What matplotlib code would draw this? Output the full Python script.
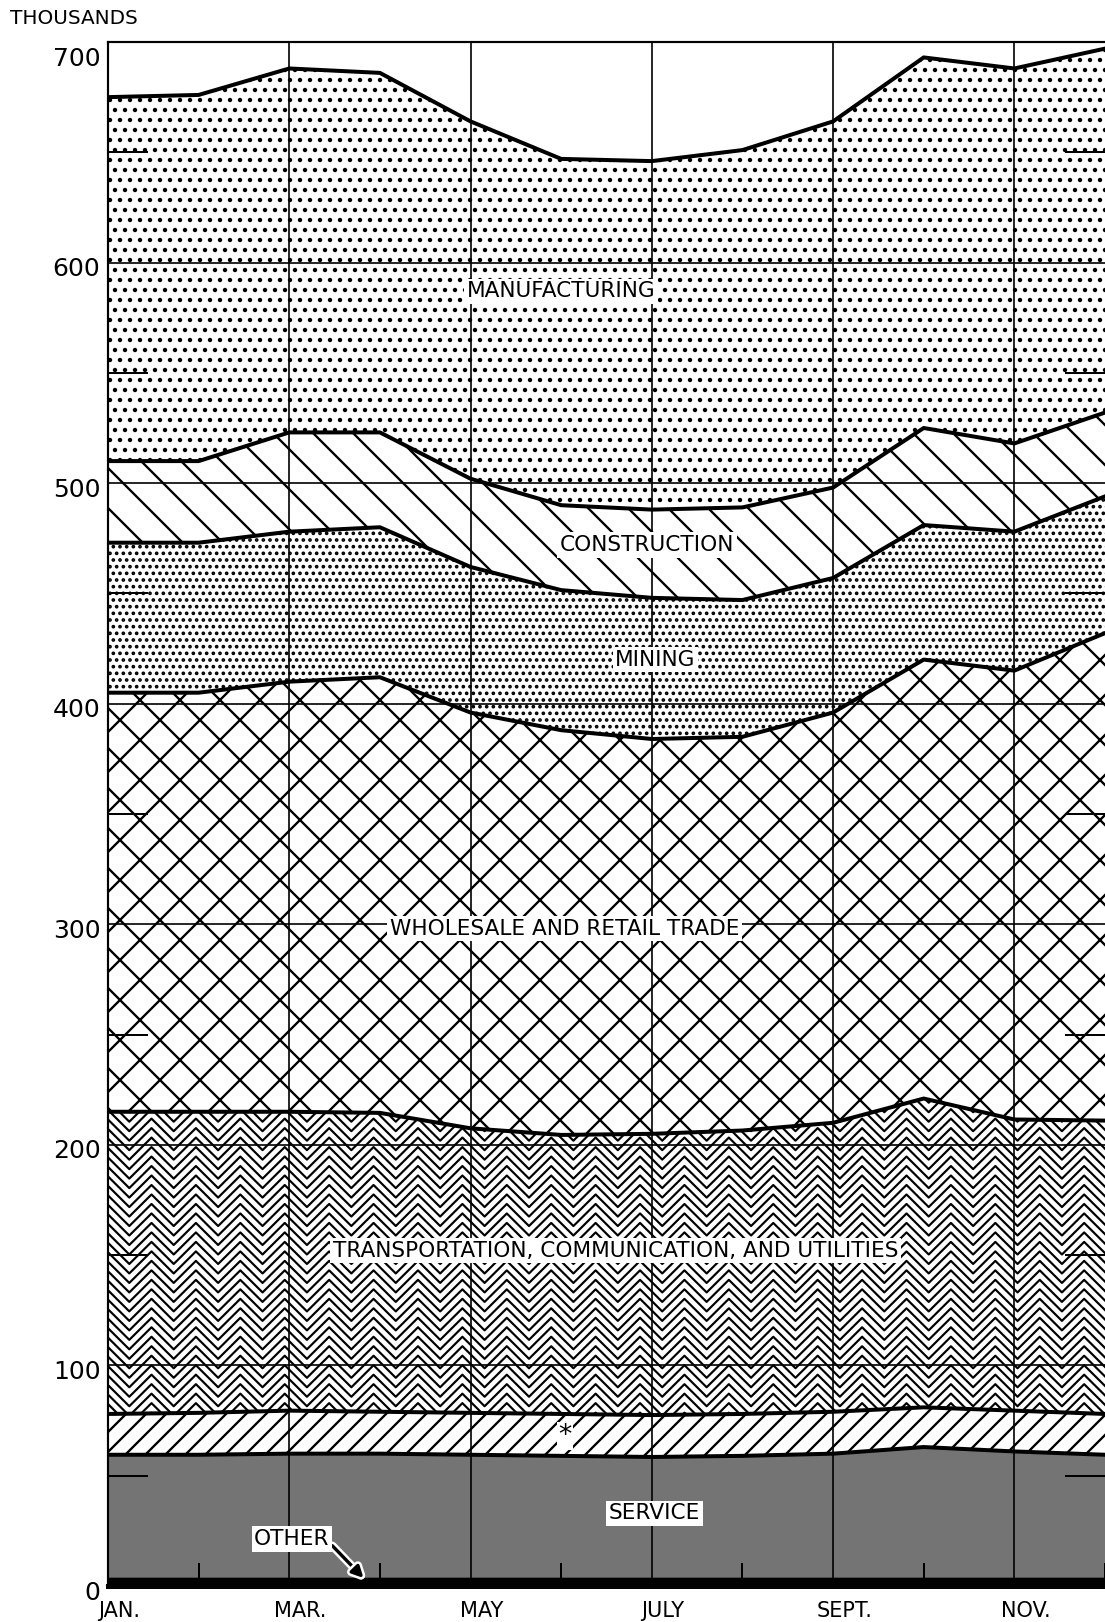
import numpy as np
import matplotlib
matplotlib.use('Agg')
import matplotlib.pyplot as plt
import matplotlib.patheffects as pe
from matplotlib.collections import LineCollection
from matplotlib.transforms import ScaledTranslation

# nonagricultural employment by industry, thousands, Jan..Dec
months = np.arange(12)
month_labels = ['JAN.', 'MAR.', 'MAY', 'JULY', 'SEPT.', 'NOV.']

other = [4, 4, 4, 4, 4, 4, 4, 4, 4, 4, 4, 4]
service = [55.5, 55.5, 56, 56, 55.5, 55, 54.5, 55, 56, 59, 57, 55.5]
star = [18.5, 19, 19.5, 19, 19, 19, 19, 19, 19, 18, 18.5, 18.5]
transport = [137, 136.5, 135.5, 135.5, 129, 126.5, 127.5, 128.5, 131, 140, 132, 133]
trade = [190, 190, 195, 197.5, 188.5, 183.5, 179, 178.5, 186, 199, 203.5, 221]
mining = [68, 68, 68, 68, 66, 63.5, 64, 62, 61, 61, 63, 62]
construction = [37, 37, 45, 43, 40, 38.5, 40, 42, 41, 44, 40, 38]
manufacturing = [165, 166, 165, 163, 162, 157, 158, 162, 166, 168, 170, 165]

DPI = 120
plt.rcParams['font.family'] = 'DejaVu Sans'
plt.rcParams['hatch.linewidth'] = 1.4

fig = plt.figure(figsize=(1105 / DPI, 1622 / DPI), dpi=DPI)
ax = fig.add_axes([108 / 1105, 1 - 1586 / 1622, 1 - 108 / 1105, (1586 - 42) / 1622])

layers = [other, service, star, transport, trade, mining, construction, manufacturing]
tops = np.cumsum(layers, axis=0)
bottoms = np.vstack([np.zeros(len(months)), tops[:-1]])

# face colour / hatch for each band, bottom to top
styles = [('black', None), ('#747474', None), ('white', '//'), ('white', None),
          ('white', 'x'), ('white', '...'), ('white', '\\'), ('white', '..')]

polys = []
for i, ((fc, hatch), lo, hi) in enumerate(zip(styles, bottoms, tops)):
    p = ax.fill_between(months, lo, hi, facecolor=fc, edgecolor='black',
                        hatch=hatch, linewidth=0, zorder=1)
    polys.append(p)
    if i > 0:
        ax.plot(months, hi, color='black', lw=2.4, zorder=4, solid_joinstyle='round')

# chevron texture for transportation band, clipped to its polygon
period, amp, gap = 0.49, 10, 4.3
zx = np.arange(-0.5, 11.6, period / 2)
segs = []
for base in np.arange(60, 240, gap):
    zy = base + amp * (np.arange(len(zx)) % 2 == 0)
    segs.append(np.column_stack([zx, zy]))
zig = LineCollection(segs, colors='black', linewidths=1.3, zorder=1.5)
zig.set_clip_path(polys[3].get_paths()[0], ax.transData)
ax.add_collection(zig, autolim=False)

ax.set_xlim(0, (1105 - 108) / 91.1)
ax.set_ylim(0, 700)

ax.set_xticks(months[::2], month_labels)
ax.set_xticks(months[1::2], minor=True)
ax.set_yticks(np.arange(0, 701, 100))
ax.set_yticks(np.arange(50, 700, 100), minor=True)
ax.tick_params(which='major', length=0)
ax.tick_params(axis='x', which='major', pad=9, labelsize=12.5)
ax.tick_params(axis='y', which='major', pad=4.5, labelsize=15)
ax.tick_params(axis='x', which='minor', direction='in', length=14, width=1.2)
ax.tick_params(axis='y', which='minor', direction='in', length=24, width=1.2,
               left=True, right=True)

ax.grid(True, which='major', color='black', lw=1.0)
ax.set_axisbelow(False)

for side in ['top', 'left']:
    ax.spines[side].set_linewidth(1.3)
ax.spines['right'].set_visible(False)
ax.spines['bottom'].set_linewidth(3)

# nudge tick labels like the original lettering
for lab in ax.get_xticklabels():
    lab.set_transform(lab.get_transform() + ScaledTranslation(11 / DPI, 0, fig.dpi_scale_trans))
for k, lab in enumerate(ax.get_yticklabels()):
    dy = -14 if k == 7 else -4
    lab.set_transform(lab.get_transform() + ScaledTranslation(0, dy / DPI, fig.dpi_scale_trans))

box = dict(boxstyle='square,pad=0.12', fc='white', ec='none')
lab = dict(fontsize=13, ha='center', va='center', zorder=6, bbox=box)
ax.text(5.0, 587, 'MANUFACTURING', **lab)
ax.text(5.95, 472, 'CONSTRUCTION', **lab)
ax.text(6.04, 420, 'MINING', **lab)
ax.text(5.04, 298, 'WHOLESALE AND RETAIL TRADE', **lab)
ax.text(5.6, 152, 'TRANSPORTATION, COMMUNICATION, AND UTILITIES', **lab)
ax.text(5.04, 68, '*', fontsize=16, ha='center', va='center', zorder=6,
        bbox=dict(boxstyle='square,pad=0.05', fc='white', ec='none'))
ax.text(6.03, 33, 'SERVICE', **lab)
ax.annotate('OTHER', xy=(2.82, 3.6), xytext=(2.03, 21.3), **lab,
            arrowprops=dict(arrowstyle='-|>', color='black', lw=2, relpos=(1.0, 0.3),
                            shrinkA=0, shrinkB=0, mutation_scale=14,
                            path_effects=[pe.withStroke(linewidth=5, foreground='white')]))

fig.text(10 / 1105, 1 - 18 / 1622, 'THOUSANDS', fontsize=12, ha='left', va='center')

fig.savefig('out.png', dpi=DPI)
